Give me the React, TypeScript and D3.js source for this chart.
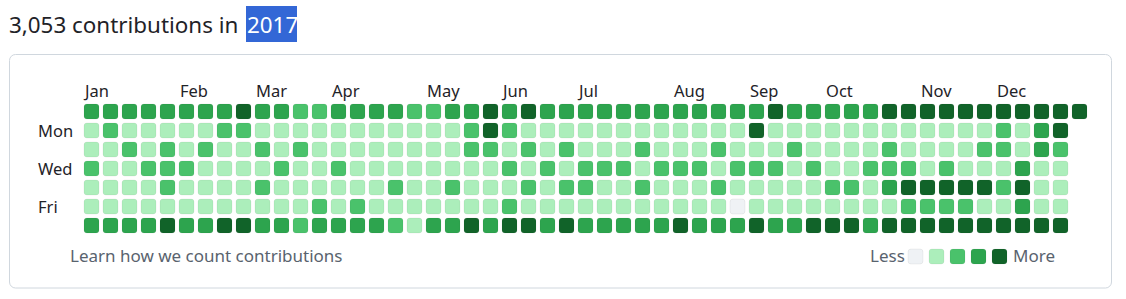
import React from "react";
import * as d3 from "d3";

// Contribution levels (0-4), one array per weekday, indexed by week column
const sun = [3,3,3,3,3,3,3,3,4, 3,3,2,2,3,3,3,3,2, 2,3,3,4,3,4,3,3,3, 3,3,3,3,3,3,3,3,3, 4,3,3,3,3,3,4,4,4, 4,4,4,4,4,4,4,4];
const mon = [1,2,1,1,1,1,1,2,2, 1,1,1,1,1,1,1,1,1, 1,1,2,4,2,1,1,1,1, 1,1,1,1,1,1,1,1,4, 1,1,1,1,1,1,1,1,1, 1,1,1,2,1,3,4];
const tue = [1,1,2,1,2,1,2,1,1, 2,1,2,1,1,1,1,1,1, 1,1,2,2,1,2,1,2,1, 1,1,2,1,1,1,2,1,1, 1,2,1,1,1,1,2,1,1, 1,1,2,2,1,3,2];
const wed = [2,1,1,2,2,2,1,1,1, 1,2,1,1,2,1,1,1,1, 1,1,1,1,2,1,2,1,2, 2,2,1,2,2,2,1,2,2, 2,1,2,1,1,2,2,2,1, 2,1,1,1,3,1,1];
const thu = [1,1,1,1,2,1,1,1,1, 2,1,1,1,1,1,1,2,1, 1,2,1,1,1,2,1,2,2, 1,1,2,1,1,1,2,1,1, 1,1,1,2,2,1,3,4,4, 4,4,4,2,4,1,1];
const fri = [1,1,1,1,1,1,1,1,1, 1,1,1,2,1,2,1,1,1, 1,1,1,1,2,1,1,1,1, 1,1,1,1,1,1,1,0,1, 1,1,1,1,1,1,1,2,2, 2,2,1,1,3,1,1];
const sat = [3,3,3,3,4,3,3,4,4, 3,3,2,3,3,3,3,2,1, 3,3,4,3,4,4,3,4,3, 3,3,3,3,4,3,3,3,4, 3,3,4,4,4,3,4,4,4, 4,4,4,4,4,4,4];

const weekdays = [sun, mon, tue, wed, thu, fri, sat];
const dayLabels = ["", "Mon", "", "Wed", "", "Fri", ""];
const monthLabels = ["Jan","Feb","Mar","Apr","May","Jun","Jul","Aug","Sep","Oct","Nov","Dec"];
const levelColors = ["#eff2f5", "#aceebb", "#4ac26b", "#2da44e", "#116329"];
const totalText = "3,053";
const year = 2017;

const FONT = "'Noto Sans', 'Open Sans', sans-serif";

export default function App() {
  const start = new Date(year, 0, 1);
  const nWeeks = 53;
  const step = 19;
  const gap = 4;
  const x = d3.scaleBand<number>().domain(d3.range(nWeeks)).range([84, 84 + nWeeks * step - gap]).paddingInner(gap / step);
  const y = d3.scaleBand<number>().domain(d3.range(7)).range([104, 104 + 7 * step - gap]).paddingInner(gap / step);
  const cw = x.bandwidth();
  const ch = y.bandwidth();

  const cells: { w: number; d: number; level: number }[] = [];
  weekdays.forEach((arr, d) => {
    arr.forEach((level, w) => {
      const date = d3.timeDay.offset(start, w * 7 + d);
      if (date.getFullYear() === year) cells.push({ w, d, level });
    });
  });

  const months = d3.timeMonth.range(start, new Date(year + 1, 0, 1)).map((m, i) => {
    const firstSunday = d3.timeSunday.ceil(m);
    return { label: monthLabels[i], w: d3.timeSunday.count(start, firstSunday) };
  });

  const legendX = d3.scaleLinear().domain([0, 1]).range([908, 929]);

  return (
    <svg width={1126} height={299} style={{ position: "absolute", left: 0, top: 0, display: "block" }} fontFamily={FONT}>
      <rect x={0} y={0} width={1126} height={299} fill="#ffffff" />
      <text x={9} y={33} fontSize={22.4} fill="#1f2328">{totalText} contributions in </text>
      <rect x={246} y={6} width={51} height={36} fill="#3367d6" />
      <text x={247} y={33} fontSize={22.4} fill="#ffffff">{year}</text>

      <rect x={9.5} y={54.5} width={1102} height={233.5} rx={6} fill="none" stroke="#d0d7de" />

      {months.map((m) => (
        <text key={m.label} x={(x(m.w) as number) + 1} y={97} fontSize={16.5} fill="#1f2328">{m.label}</text>
      ))}
      {dayLabels.map((l, d) => l ? (
        <text key={l} x={38} y={(y(d) as number) + ch / 2} dy="0.37em" fontSize={16.5} fill="#1f2328">{l}</text>
      ) : null)}

      {cells.map((c) => (
        <rect key={`${c.w}-${c.d}`} x={x(c.w)} y={y(c.d)} width={cw} height={ch} rx={3}
          fill={levelColors[c.level]} stroke="rgba(31,35,40,0.06)" strokeWidth={1} />
      ))}

      <text x={70} y={262} fontSize={17} fill="#59636e">Learn how we count contributions</text>
      <text x={870} y={262} fontSize={17} fill="#59636e">Less</text>
      {levelColors.map((c, i) => (
        <rect key={c} x={legendX(i)} y={249} width={15} height={15} rx={3} fill={c} stroke="rgba(31,35,40,0.06)" />
      ))}
      <text x={1013} y={262} fontSize={17} fill="#59636e">More</text>
    </svg>
  );
}
